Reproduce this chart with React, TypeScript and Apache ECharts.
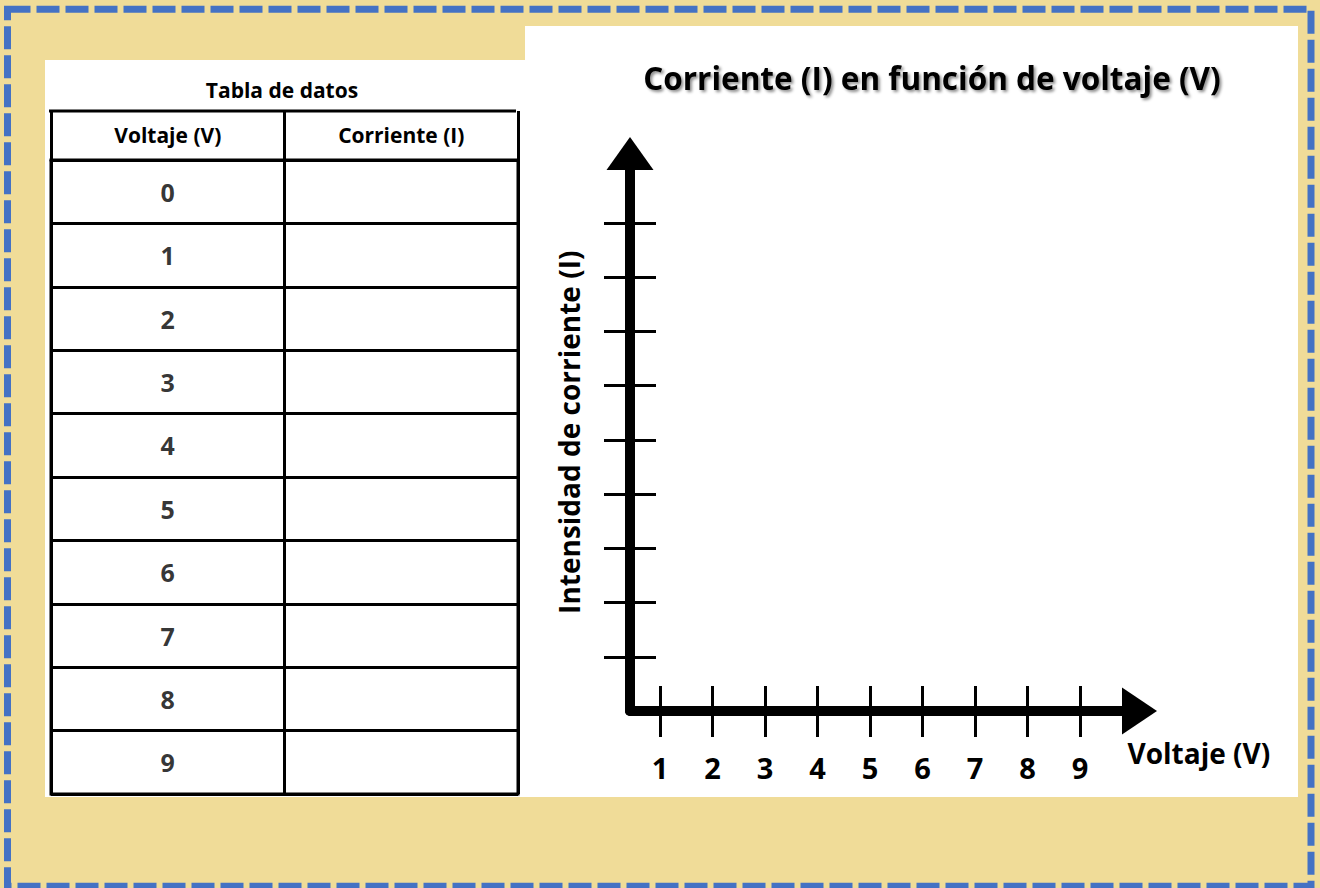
import { useEffect, useRef } from 'react';
import * as echarts from 'echarts';

// ---- content / data ----
const voltages = [0, 1, 2, 3, 4, 5, 6, 7, 8, 9];
const tableColumns = ['Voltaje (V)', 'Corriente (I)'];
const xTickValues = [1, 2, 3, 4, 5, 6, 7, 8, 9];
const yTickValues = [1, 2, 3, 4, 5, 6, 7, 8, 9];
const chartTitle = 'Corriente (I) en función de voltaje (V)';
const tableTitle = 'Tabla de datos';
const xAxisName = 'Voltaje (V)';
const yAxisName = 'Intensidad de corriente (I)';

const FONT = "'Open Sans', 'Noto Sans', sans-serif";

export default function App() {
  const ref = useRef<HTMLDivElement>(null);

  useEffect(() => {
    const chart = echarts.init(ref.current!, null, { renderer: 'svg' });
    const black = '#000';
    const thin = { color: black, width: 3 };

    chart.setOption({
      animation: false,
      backgroundColor: '#F0DC98',
      graphic: [
        { type: 'rect', z: -5, shape: { x: 45, y: 60, width: 480, height: 737 }, style: { fill: '#fff' } },
        { type: 'rect', z: -5, shape: { x: 525, y: 26, width: 773, height: 771 }, style: { fill: '#fff' } },
        {
          type: 'rect',
          z: 10,
          shape: { x: 7.5, y: 9.3, width: 1303.5, height: 877 },
          style: { fill: 'none', stroke: '#4472C4', lineWidth: 7, lineDash: [23, 6] },
        },
        { type: 'line', shape: { x1: 49, y1: 111, x2: 516, y2: 111 }, style: { stroke: black, lineWidth: 3 } },
        {
          type: 'text',
          x: 932,
          y: 77,
          style: {
            text: chartTitle,
            align: 'center',
            verticalAlign: 'middle',
            font: `bold 31.5px ${FONT}`,
            fill: black,
            textShadowColor: 'rgba(0,0,0,0.45)',
            textShadowBlur: 3,
            textShadowOffsetX: 2,
            textShadowOffsetY: 2,
          },
        },
        {
          type: 'text',
          x: 282,
          y: 90,
          style: { text: tableTitle, align: 'center', verticalAlign: 'middle', font: `bold 21px ${FONT}`, fill: black },
        },
      ],
      grid: [
        { left: 630, top: 153.5, width: 509.5, height: 557.5 },
        { left: 51, top: 160, width: 467, height: 634, show: true, borderColor: black, borderWidth: 3 },
      ],
      xAxis: [
        {
          gridIndex: 0,
          type: 'value',
          min: 0.43,
          max: 10.13,
          position: 'bottom',
          axisLine: {
            show: true,
            onZero: false,
            symbol: ['none', 'triangle'],
            symbolSize: [47, 35],
            lineStyle: { color: black, width: 10, cap: 'round' },
          },
          axisTick: { show: true, customValues: xTickValues, length: 26, lineStyle: thin },
          axisLabel: {
            show: true,
            customValues: xTickValues,
            margin: 42,
            fontSize: 29,
            fontWeight: 'bold',
            fontFamily: FONT,
            color: black,
          },
          splitLine: { show: false },
          name: xAxisName,
          nameLocation: 'end',
          nameGap: -12,
          nameTextStyle: {
            align: 'left',
            verticalAlign: 'top',
            padding: [28, 0, 0, 0],
            fontSize: 28,
            fontWeight: 'bold',
            fontFamily: FONT,
            color: black,
          },
        },
        {
          gridIndex: 0,
          type: 'value',
          min: 0.43,
          max: 10.13,
          position: 'bottom',
          axisLine: { show: false, onZero: false },
          axisTick: { show: true, inside: true, customValues: xTickValues, length: 25, lineStyle: thin },
          axisLabel: { show: false },
          splitLine: { show: false },
        },
        {
          gridIndex: 1,
          type: 'category',
          data: tableColumns,
          position: 'top',
          boundaryGap: true,
          axisLine: { show: true, lineStyle: thin },
          axisTick: { show: true, length: 49, lineStyle: thin },
          axisLabel: { margin: 15, fontSize: 21, fontWeight: 'bold', fontFamily: FONT, color: black },
          splitLine: { show: true, lineStyle: thin },
        },
      ],
      yAxis: [
        {
          gridIndex: 0,
          type: 'value',
          min: 0,
          max: 10.28,
          position: 'left',
          axisLine: {
            show: true,
            onZero: false,
            symbol: ['none', 'triangle'],
            symbolSize: [47, 33],
            lineStyle: { color: black, width: 10, cap: 'round' },
          },
          axisTick: { show: true, customValues: yTickValues, length: 26, lineStyle: thin },
          axisLabel: { show: false },
          splitLine: { show: false },
          name: yAxisName,
          nameLocation: 'middle',
          nameRotate: 90,
          nameGap: 47,
          nameTextStyle: { fontSize: 28, fontWeight: 'bold', fontFamily: FONT, color: black },
        },
        {
          gridIndex: 0,
          type: 'value',
          min: 0,
          max: 10.28,
          position: 'left',
          axisLine: { show: false, onZero: false },
          axisTick: { show: true, inside: true, customValues: yTickValues, length: 26, lineStyle: thin },
          axisLabel: { show: false },
          splitLine: { show: false },
        },
        {
          gridIndex: 1,
          type: 'category',
          data: voltages.map(String),
          inverse: true,
          boundaryGap: true,
          axisLine: { show: true, lineStyle: thin },
          axisTick: { show: false },
          axisLabel: { show: false },
          splitLine: { show: true, lineStyle: thin },
        },
      ],
      series: [
        { type: 'line', xAxisIndex: 0, yAxisIndex: 0, data: [] },
        {
          type: 'scatter',
          xAxisIndex: 2,
          yAxisIndex: 2,
          symbol: 'circle',
          symbolSize: 1,
          itemStyle: { color: 'rgba(0,0,0,0)' },
          data: voltages.map((v) => [tableColumns[0], String(v)]),
          label: {
            show: true,
            position: 'inside',
            formatter: (p: any) => p.value[1],
            fontSize: 25,
            fontWeight: 'bold',
            fontFamily: FONT,
            color: black,
            textBorderWidth: 0,
          },
        },
      ],
    });

    return () => chart.dispose();
  }, []);

  return <div ref={ref} style={{ position: 'fixed', left: 0, top: 0, width: 1320, height: 888 }} />;
}
